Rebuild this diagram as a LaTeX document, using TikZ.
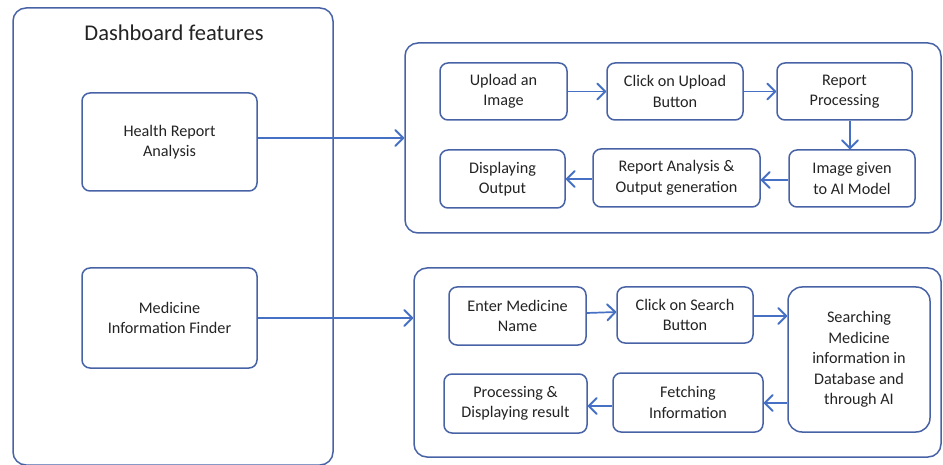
\documentclass[tikz,border=0pt]{standalone}
\usepackage{fontspec}
\setmainfont{Carlito}
\usetikzlibrary{arrows.meta}
\definecolor{boxblue}{RGB}{72,98,166}
\definecolor{arrblue}{RGB}{70,112,196}
\definecolor{txt}{RGB}{35,35,35}
\tikzset{
  x=1pt, y=-1pt,
  panel/.style={draw=boxblue, line width=1.5pt, rounded corners=13pt, inner sep=0pt},
  stepbox/.style={draw=boxblue, line width=1.5pt, rounded corners=8pt, align=center,
    inner sep=0pt, text=txt, font=\fontsize{16.2}{20.5}\selectfont},
  arr/.style={draw=arrblue, line width=1.7pt, -{Straight Barb[length=8pt,width=16pt,line width=2pt,round]}},
}
\begin{document}
\begin{tikzpicture}
\useasboundingbox (0,0) rectangle (943,465);
% outer dashboard
\node[panel, minimum width=320pt, minimum height=457pt] (outer) at (173,236.5) {};
\node[text=txt, font=\fontsize{22.5}{26}\selectfont] (title) at (174,33) {Dashboard features};
\node[stepbox, minimum width=175pt, minimum height=98pt] (hra) at (169.5,142) {Health Report\\Analysis};
\node[stepbox, minimum width=175pt, minimum height=100pt] (mif) at (169.5,318) {Medicine\\Information Finder};
% panels
\node[panel, minimum width=536pt, minimum height=190pt] (tp) at (673,138) {};
\node[panel, minimum width=527pt, minimum height=189pt] (bp) at (677.5,362.5) {};
% top flow
\node[stepbox, minimum width=127pt, minimum height=57pt] (up) at (503.5,91.5) {Upload an\\Image};
\node[stepbox, minimum width=136pt, minimum height=57pt] (cu) at (675,91.5) {Click on Upload\\Button};
\node[stepbox, minimum width=135pt, minimum height=57pt] (rp) at (844.5,91.5) {Report\\Processing};
\node[stepbox, minimum width=126pt, minimum height=57pt] (ig) at (852,178.5) {Image given\\to AI Model};
\node[stepbox, minimum width=167pt, minimum height=58pt] (ra) at (676.5,178) {Report Analysis \&\\Output generation};
\node[stepbox, minimum width=125pt, minimum height=58pt] (dout) at (502.5,179) {Displaying\\Output};
% bottom flow
\node[stepbox, minimum width=137pt, minimum height=58pt] (en) at (517.5,316) {Enter Medicine\\Name};
\node[stepbox, minimum width=136pt, minimum height=56pt] (cs) at (685,315) {Click on Search\\Button};
\node[stepbox, rounded corners=14pt, minimum width=142pt, minimum height=145pt] (sm) at (859,359.5) {Searching\\Medicine\\information in\\Database and\\through AI};
\node[stepbox, minimum width=143pt, minimum height=59pt] (pr) at (515.5,403.5) {Processing \&\\Displaying result};
\node[stepbox, minimum width=150pt, minimum height=59pt] (fi) at (688,402.5) {Fetching\\Information};
% connectors
\draw[arr] (hra.east |- tp.west) -- (tp.west);
\draw[arr] (mif.east) -- (mif.east -| bp.west);
\draw[arr] (up.east) -- (cu.west);
\draw[arr] (cu.east) -- (rp.west);
\draw[arr] ([xshift=5.5pt]rp.south) -- ([xshift=5.5pt]rp.south |- ig.north);
\draw[arr] (ig.west |- 0,180) -- (ra.east |- 0,180);
\draw[arr] (ra.west |- 0,179) -- (dout.east |- 0,179);
\draw[arr] (en.east |- 0,313) -- (cs.west |- 0,312);
\draw[arr] (cs.east |- 0,316) -- (sm.west |- 0,316);
\draw[arr] (sm.west |- 0,403) -- (fi.east |- 0,403);
\draw[arr] (fi.west |- 0,406) -- (pr.east |- 0,406);
\end{tikzpicture}
\end{document}
